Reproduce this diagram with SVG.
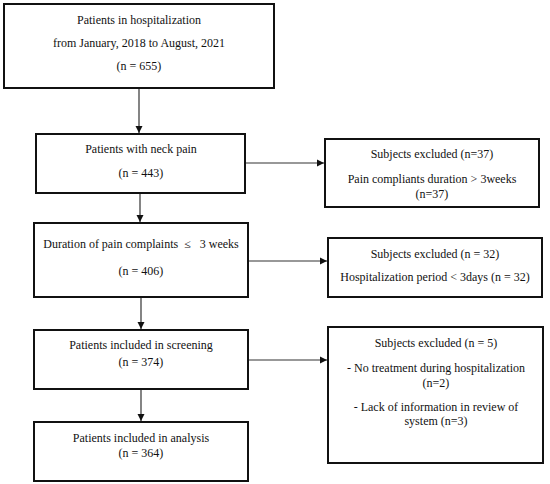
<svg xmlns="http://www.w3.org/2000/svg" width="550" height="484" viewBox="0 0 550 484">
<style>
.box{fill:#fff;stroke:#111;stroke-width:2}
.t{font-family:"Liberation Serif","Times New Roman",serif;font-size:12px;fill:#111;text-anchor:middle}
.c{stroke:#333;stroke-width:1.2;fill:none;marker-end:url(#ah)}
</style>
<defs>
<marker id="ah" markerWidth="8" markerHeight="8" refX="7" refY="4" orient="auto" markerUnits="userSpaceOnUse">
<path d="M0,0.5 L7,4 L0,7.5 Z" fill="#111"/>
</marker>
</defs>
<rect width="550" height="484" fill="#fff"/>
<g id="connectors">
<line class="c" x1="139" y1="89" x2="139" y2="133"/>
<line class="c" x1="140" y1="194" x2="140" y2="222"/>
<line class="c" x1="141" y1="298" x2="141" y2="329"/>
<line class="c" x1="141" y1="390" x2="141" y2="421"/>
<line class="c" x1="246" y1="163" x2="324" y2="163"/>
<line class="c" x1="249" y1="261" x2="327" y2="261"/>
<line class="c" x1="249" y1="360" x2="327" y2="360"/>
</g>
<g id="n1">
<rect class="box" x="4" y="4" width="270" height="84"/>
<text class="t" x="139" y="24">Patients in hospitalization</text>
<text class="t" x="139" y="47">from January, 2018 to August, 2021</text>
<text class="t" x="139" y="70">(n = 655)</text>
</g>
<g id="n2">
<rect class="box" x="36" y="134" width="209" height="59"/>
<text class="t" x="141" y="153">Patients with neck pain</text>
<text class="t" x="141" y="177">(n = 443)</text>
</g>
<g id="n3">
<rect class="box" x="34" y="223" width="214" height="74"/>
<text class="t" x="141" y="248">Duration of pain complaints&#160;&#160;≤&#160;&#160;&#160;3 weeks</text>
<text class="t" x="141" y="275">(n = 406)</text>
</g>
<g id="n4">
<rect class="box" x="34" y="330" width="214" height="59"/>
<text class="t" x="141" y="349">Patients included in screening</text>
<text class="t" x="141" y="366">(n = 374)</text>
</g>
<g id="n5">
<rect class="box" x="34" y="422" width="214" height="59"/>
<text class="t" x="141" y="442">Patients included in analysis</text>
<text class="t" x="141" y="457">(n = 364)</text>
</g>
<g id="e1">
<rect class="box" x="325" y="139" width="214" height="68"/>
<text class="t" x="432" y="158">Subjects excluded (n=37)</text>
<text class="t" x="432" y="183">Pain compliants duration &gt; 3weeks</text>
<text class="t" x="432" y="198">(n=37)</text>
</g>
<g id="e2">
<rect class="box" x="328" y="238" width="214" height="59"/>
<text class="t" x="435" y="258">Subjects excluded (n = 32)</text>
<text class="t" x="435" y="281">Hospitalization period &lt; 3days (n = 32)</text>
</g>
<g id="e3">
<rect class="box" x="328" y="327" width="215" height="136"/>
<text class="t" x="436" y="347">Subjects excluded (n = 5)</text>
<text class="t" x="436" y="372">- No treatment during hospitalization</text>
<text class="t" x="436" y="387">(n=2)</text>
<text class="t" x="436" y="411">- Lack of information in review of</text>
<text class="t" x="436" y="425">system (n=3)</text>
</g>
</svg>
